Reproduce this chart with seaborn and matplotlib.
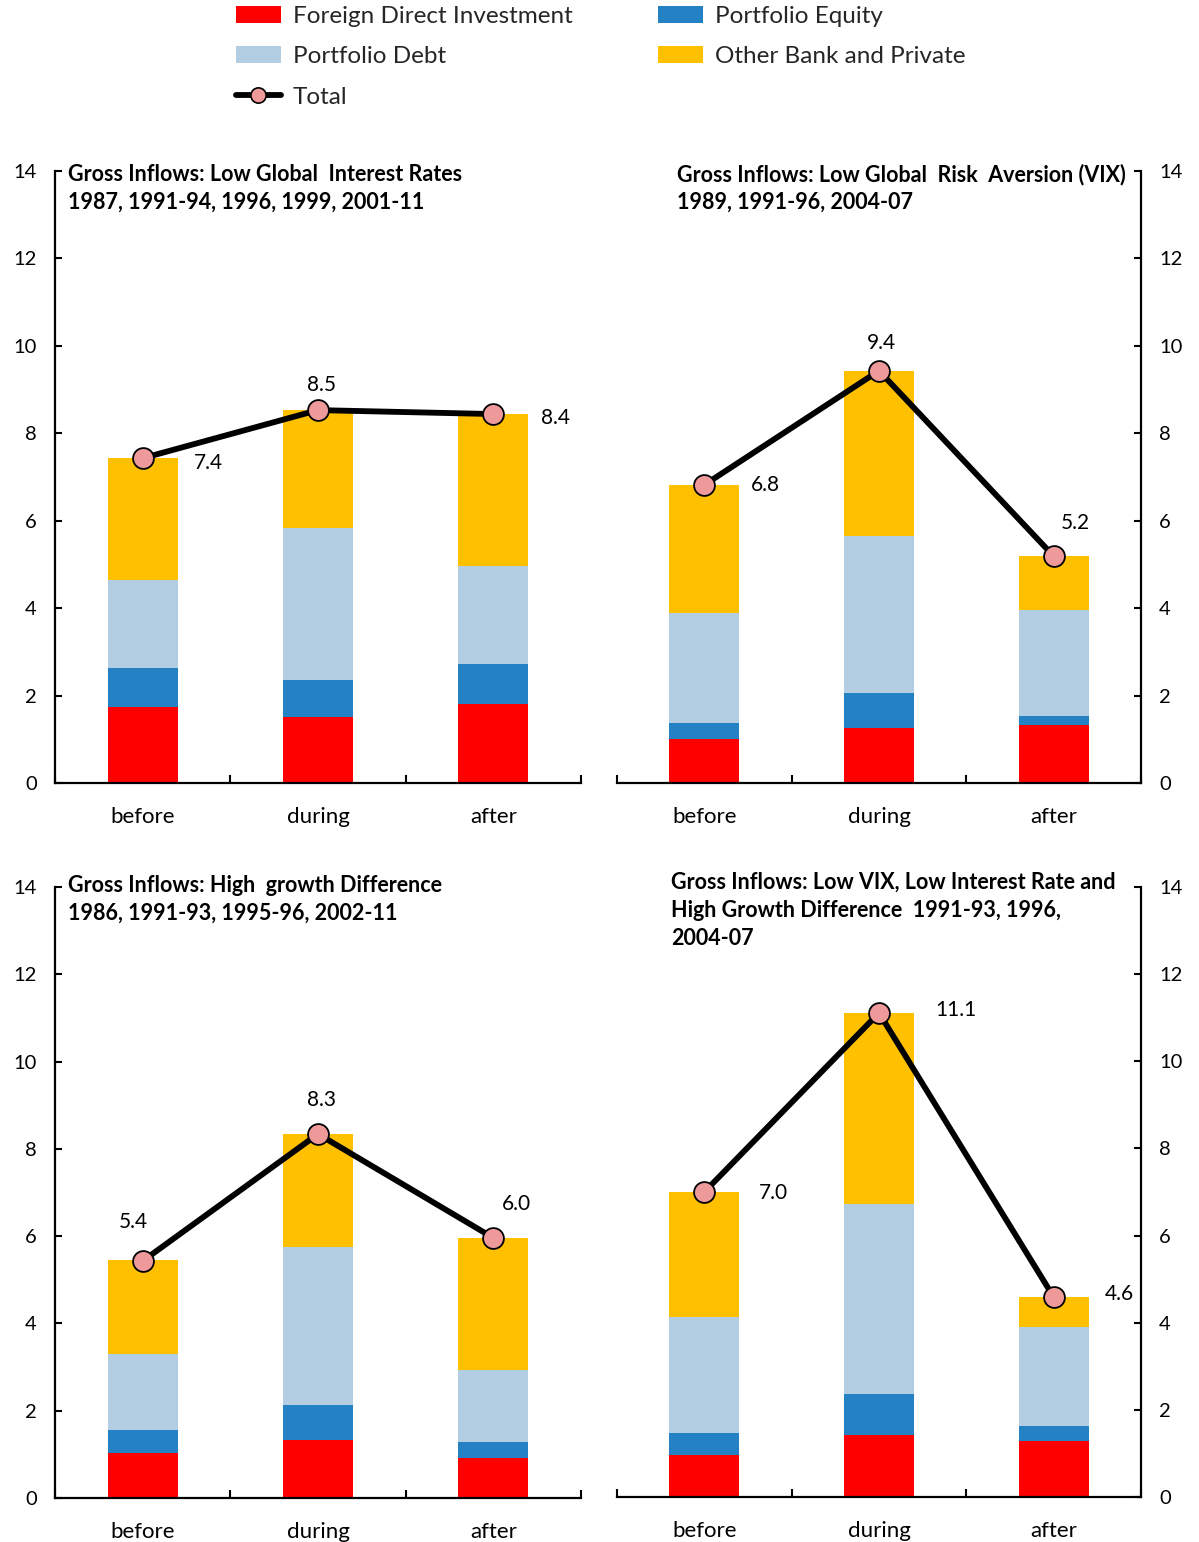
import numpy as np
import matplotlib
matplotlib.use("Agg")
import matplotlib.pyplot as plt
from matplotlib.patches import Patch
from matplotlib.lines import Line2D
from matplotlib.ticker import FixedLocator
import seaborn as sns

# ---------------------------------------------------------------- data
periods = ["before", "during", "after"]

# Low global interest rates
fdi_rates = [1.74, 1.51, 1.81]
equity_rates = [0.89, 0.85, 0.91]
debt_rates = [2.01, 3.47, 2.24]
other_rates = [2.79, 2.70, 3.48]
total_rates = [7.43, 8.53, 8.44]

# Low global risk aversion (VIX)
fdi_vix = [1.01, 1.26, 1.33]
equity_vix = [0.36, 0.80, 0.20]
debt_vix = [2.52, 3.59, 2.43]
other_vix = [2.93, 3.78, 1.23]
total_vix = [6.82, 9.43, 5.19]

# High growth difference
fdi_growth = [1.03, 1.33, 0.92]
equity_growth = [0.53, 0.80, 0.36]
debt_growth = [1.74, 3.62, 1.65]
other_growth = [2.16, 2.59, 3.03]
total_growth = [5.43, 8.34, 5.96]

# Low VIX, low interest rate and high growth difference
fdi_all = [0.96, 1.42, 1.29]
equity_all = [0.51, 0.94, 0.34]
debt_all = [2.66, 4.36, 2.27]
other_all = [2.87, 4.39, 0.69]
total_all = [7.00, 11.11, 4.59]

series_names = ["Foreign Direct Investment", "Portfolio Equity",
                "Portfolio Debt", "Other Bank and Private"]
total_name = "Total"

titles_rates = ["Gross Inflows: Low Global  Interest Rates",
                "1987, 1991-94, 1996, 1999, 2001-11"]
titles_vix = ["Gross Inflows: Low Global  Risk  Aversion (VIX)",
              "1989, 1991-96, 2004-07"]
titles_growth = ["Gross Inflows: High  growth Difference",
                 "1986, 1991-93, 1995-96, 2002-11"]
titles_all = ["Gross Inflows: Low VIX, Low Interest Rate and",
              "High Growth Difference  1991-93, 1996,",
              "2004-07"]

# ---------------------------------------------------------------- style
colors = ["#FF0000", "#2481C3", "#B3CDE3", "#FFC000"]
marker_face = "#EE9A9A"

sns.set_style("ticks")
plt.rcParams["font.family"] = ["Lato", "DejaVu Sans"]
plt.rcParams["axes.edgecolor"] = "black"
plt.rcParams["xtick.color"] = "black"
plt.rcParams["ytick.color"] = "black"

W, H = 1199, 1542
fig = plt.figure(figsize=(W / 100, H / 100), dpi=100)


def fx(x):
    return x / W


def fy(y):
    return 1 - y / H


panels = [
    dict(rect=(55, 171, 581, 783), side="left",
         comps=[fdi_rates, equity_rates, debt_rates, other_rates], total=total_rates,
         title=titles_rates, tx=68, tys=[181, 209],
         offs=[(66, 5), (4, -25), (62, 4)]),
    dict(rect=(617, 171, 1141, 783), side="right",
         comps=[fdi_vix, equity_vix, debt_vix, other_vix], total=total_vix,
         title=titles_vix, tx=677, tys=[181, 209],
         offs=[(61, 0), (2, -28), (22, -33)]),
    dict(rect=(55, 887, 581, 1498), side="left",
         comps=[fdi_growth, equity_growth, debt_growth, other_growth], total=total_growth,
         title=titles_growth, tx=68, tys=[892, 920],
         offs=[(-9, -39), (4, -34), (23, -34)]),
    dict(rect=(617, 887, 1141, 1497), side="right",
         comps=[fdi_all, equity_all, debt_all, other_all], total=total_all,
         title=titles_all, tx=671, tys=[889, 917, 945],
         offs=[(69, 1), (77, -3), (66, -3)]),
]

PX2PT = 72 / 100

for p in panels:
    x0, y0, x1, y1 = p["rect"]
    ax = fig.add_axes([fx(x0), fy(y1), (x1 - x0) / W, (y1 - y0) / H])

    # stacked bars: draw cumulative heights from the top layer down
    cum = np.cumsum(np.array(p["comps"]), axis=0)
    for k in range(3, -1, -1):
        sns.barplot(x=periods, y=cum[k], color=colors[k], width=0.4,
                    saturation=1, edgecolor="none", linewidth=0, ax=ax, zorder=2)

    # total line with markers
    sns.lineplot(x=np.arange(3), y=p["total"], ax=ax, color="black",
                 linewidth=4.2, marker="o", markersize=15,
                 markerfacecolor=marker_face, markeredgecolor="black",
                 markeredgewidth=1.3, zorder=5)

    for i, v in enumerate(p["total"]):
        dx, dy = p["offs"][i]
        ax.annotate(f"{v:.1f}", xy=(i, v), xytext=(dx * PX2PT, -dy * PX2PT),
                    textcoords="offset points", ha="center", va="center",
                    fontsize=15, color="black", zorder=6)

    ax.set_xlim(-0.5, 2.5)
    ax.set_ylim(0, 14)
    ax.set_yticks(range(0, 15, 2))
    ax.set_xlabel("")
    ax.set_ylabel("")

    if p["side"] == "left":
        sns.despine(ax=ax, top=True, right=True)
    else:
        sns.despine(ax=ax, top=True, left=True, right=False)
        ax.yaxis.tick_right()

    for s in ax.spines.values():
        s.set_linewidth(1.6)
        s.set_color("black")

    ax.tick_params(axis="y", direction="in", length=5, width=1.5,
                   pad=13, labelsize=14.5)
    ax.tick_params(axis="x", which="major", length=0, pad=17, labelsize=16)
    ax.xaxis.set_minor_locator(FixedLocator([-0.5, 0.5, 1.5, 2.5]))
    ax.tick_params(axis="x", which="minor", direction="in", length=6, width=1.5)

    for line, ty in zip(p["title"], p["tys"]):
        fig.text(fx(p["tx"]), fy(ty), line, ha="left", va="baseline",
                 fontsize=15.5, fontweight="bold", color="black")

# ---------------------------------------------------------------- legend
handles = [
    Patch(facecolor=colors[0], edgecolor="none"),
    Patch(facecolor=colors[2], edgecolor="none"),
    Line2D([], [], color="black", linewidth=4.2, marker="o", markersize=11,
           markerfacecolor=marker_face, markeredgecolor="black", markeredgewidth=1.2),
    Patch(facecolor=colors[1], edgecolor="none"),
    Patch(facecolor=colors[3], edgecolor="none"),
]
labels = [series_names[0], series_names[2], total_name, series_names[1], series_names[3]]
fig.legend(handles, labels, ncol=2, loc="upper left",
           bbox_to_anchor=(fx(236), fy(6)), frameon=False, fontsize=17.5,
           handlelength=1.85, handleheight=0.7, handletextpad=0.5,
           labelspacing=0.8, columnspacing=3.5, borderpad=0, borderaxespad=0)

fig.savefig("out.png", dpi=100)
